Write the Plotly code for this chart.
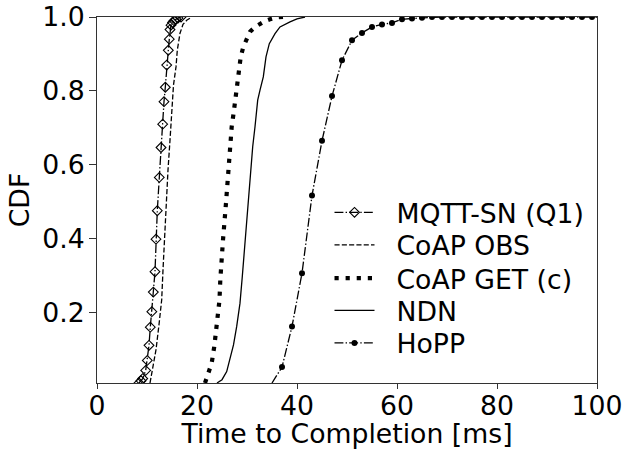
import plotly.graph_objects as go

# ---- data ----
mqtt_ms = [8.4, 8.8, 9.14, 9.74, 10.06, 10.4, 10.66, 10.97, 11.26, 11.6, 11.8, 12.06,
           12.46, 12.8, 13.14, 13.4, 13.66, 13.94, 14.26, 14.46, 14.6, 14.8, 15.1, 15.4,
           15.8, 16.2, 16.8]
mqtt_cdf = [0.01, 0.016, 0.022, 0.044, 0.071, 0.112, 0.161, 0.203, 0.256, 0.311, 0.399, 0.476,
            0.566, 0.647, 0.710, 0.771, 0.81, 0.87, 0.91, 0.94, 0.966, 0.978, 0.985, 0.99,
            0.994, 0.997, 1.0]

obs_ms = [10.6, 11.26, 11.8, 12.4, 12.94, 13.2, 13.46, 13.8, 14.2, 14.6, 14.94, 15.3,
          15.8, 16.06, 16.6, 17.2, 17.94, 18.94]
obs_cdf = [0.01, 0.055, 0.10, 0.168, 0.235, 0.316, 0.397, 0.505, 0.586, 0.667, 0.748, 0.816,
           0.865, 0.91, 0.956, 0.98, 0.991, 1.0]

get_ms = [21.6, 22.26, 22.94, 23.46, 23.8, 24.2, 24.5, 24.66, 24.9, 25.2, 25.8, 26.14,
          26.46, 26.94, 27.4, 27.94, 28.26, 28.74, 29.26, 29.94, 30.6, 31.6, 32.6, 33.6,
          34.6, 35.94, 37.2]
get_cdf = [0.01, 0.037, 0.064, 0.109, 0.154, 0.203, 0.235, 0.289, 0.343, 0.397, 0.497, 0.559,
           0.64, 0.703, 0.748, 0.816, 0.852, 0.892, 0.919, 0.942, 0.96, 0.973, 0.982, 0.989,
           0.994, 0.999, 1.0]

ndn_ms = [24.0, 25.0, 25.94, 26.6, 27.3, 27.94, 28.6, 29.06, 29.46, 29.94, 30.4, 30.74,
          31.14, 31.6, 32.14, 32.6, 33.26, 33.8, 34.46, 35.6, 36.6, 38.6, 40.0, 41.6]
ndn_cdf = [0.01, 0.019, 0.041, 0.073, 0.113, 0.163, 0.226, 0.298, 0.37, 0.451, 0.523, 0.577,
           0.649, 0.703, 0.775, 0.802, 0.838, 0.892, 0.928, 0.955, 0.973, 0.987, 0.995, 1.0]

hopp_ms = [35, 37, 39, 41, 43, 45, 47, 49, 51, 53, 55, 57, 59, 61, 63, 65, 67, 69, 71, 73,
           75, 77, 79, 81, 83, 85, 87, 89, 91, 93, 95, 97, 99, 100]
hopp_cdf = [0.01, 0.053, 0.163, 0.307, 0.517, 0.665, 0.786, 0.883, 0.937, 0.957, 0.973, 0.98,
            0.984, 0.994, 0.996, 0.998, 1.0, 1.0, 1.0, 1.0, 1.0, 1.0, 1.0, 1.0, 1.0, 1.0,
            1.0, 1.0, 1.0, 1.0, 1.0, 1.0, 1.0, 1.0]

series_names = ["MQTT-SN (Q1)", "CoAP OBS", "CoAP GET (c)", "NDN", "HoPP"]

x_ticks = [0, 20, 40, 60, 80, 100]
y_ticks = [0.2, 0.4, 0.6, 0.8, 1.0]
y_ticktext = ["0.2", "0.4", "0.6", "0.8", "1.0"]

FONT = "DejaVu Sans"
FS = 26.7
DASHDOT = "8.9px,2.2px,1.4px,2.2px"
DASHED = "5.1px,2.2px"
DOTTED = "4.2px,6.9px"
GAP = "\u00a0\u00a0"

fig = go.Figure()

fig.add_trace(go.Scatter(
    x=mqtt_ms, y=mqtt_cdf, name=GAP + series_names[0], mode="lines+markers", legend="legend",
    line=dict(color="black", width=1.3, dash=DASHDOT),
    marker=dict(symbol="diamond-open", size=7.5, color="black", line=dict(width=1.1)),
))
fig.add_trace(go.Scatter(
    x=obs_ms, y=obs_cdf, name=GAP + series_names[1], mode="lines", legend="legend2",
    line=dict(color="black", width=1.3, dash=DASHED),
))
fig.add_trace(go.Scatter(
    x=get_ms, y=get_cdf, name=GAP + series_names[2], mode="lines", legend="legend3",
    line=dict(color="black", width=4.2, dash=DOTTED),
))
fig.add_trace(go.Scatter(
    x=ndn_ms, y=ndn_cdf, name=GAP + series_names[3], mode="lines", legend="legend4",
    line=dict(color="black", width=1.3),
))
# HoPP: line through all points, markers every other ms
fig.add_trace(go.Scatter(
    x=hopp_ms, y=hopp_cdf, mode="lines", showlegend=False,
    line=dict(color="black", width=1.3, dash=DASHDOT),
))
fig.add_trace(go.Scatter(
    x=hopp_ms[1:-1], y=hopp_cdf[1:-1], mode="markers", showlegend=False,
    marker=dict(symbol="circle", size=6, color="black"),
))
fig.add_trace(go.Scatter(
    x=[None], y=[None], name=GAP + series_names[4], mode="lines+markers", legend="legend5",
    line=dict(color="black", width=1.3, dash=DASHDOT),
    marker=dict(symbol="circle", size=6, color="black"),
))

axis_common = dict(
    showline=True, linecolor="#333", linewidth=1, mirror=True,
    ticks="outside", tickwidth=1, tickcolor="#333",
    showgrid=False, zeroline=False, automargin=False,
    tickfont=dict(family=FONT, size=FS, color="black"),
)


def leg(yc):
    return dict(
        x=0.465, y=yc, xanchor="left", yanchor="middle",
        bgcolor="rgba(0,0,0,0)", borderwidth=0,
        font=dict(family=FONT, size=FS, color="black"),
        itemwidth=40,
    )


fig.update_layout(
    width=636, height=449,
    margin=dict(l=97, r=39, t=17, b=66),
    paper_bgcolor="white", plot_bgcolor="white",
    font=dict(family=FONT, size=FS, color="black"),
    showlegend=True,
    legend=leg(0.466), legend2=leg(0.377), legend3=leg(0.286),
    legend4=leg(0.198), legend5=leg(0.109),
    xaxis=dict(
        range=[0, 100], tickvals=x_ticks, ticklen=5, ticklabelstandoff=-6,
        title=dict(text="Time to Completion [ms]", font=dict(family=FONT, size=FS), standoff=2),
        **axis_common,
    ),
    yaxis=dict(
        range=[0.01, 1.0], tickvals=y_ticks, ticktext=y_ticktext, ticklen=7,
        ticklabelstandoff=-1,
        title=dict(text="CDF", font=dict(family=FONT, size=FS), standoff=4),
        **axis_common,
    ),
)

# remove the browser's default 8px body margin so the figure sits at the window origin
fig.write_html("out.html", config={"displayModeBar": False},
               post_script="document.body.style.margin='0';")
